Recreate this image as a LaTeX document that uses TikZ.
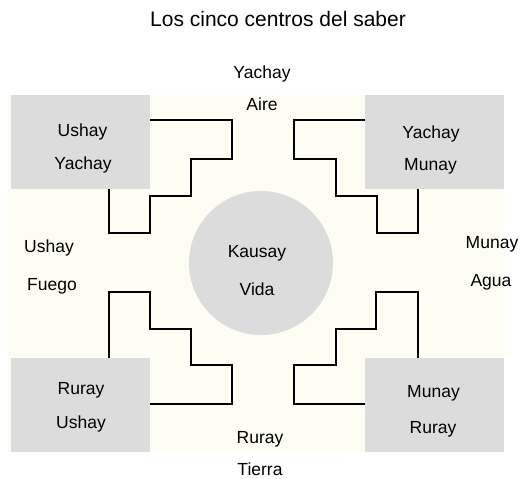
\documentclass[tikz,border=0pt]{standalone}
\usepackage{fontspec}
\setmainfont{Liberation Sans}
\definecolor{cream}{RGB}{253,253,243}
\definecolor{boxgray}{RGB}{220,220,220}
\begin{document}
\begin{tikzpicture}[x=1pt,y=-1pt,
  box/.style={fill=boxgray,draw=none,inner sep=0pt,minimum width=139pt,minimum height=94pt,anchor=north west},
  lbl/.style={font=\fontsize{17.5}{20}\selectfont,anchor=base,inner sep=0pt},
  ttl/.style={font=\fontsize{21}{24}\selectfont,anchor=base,inner sep=0pt},
  stair/.style={draw=black,line width=2.7pt,line cap=butt,line join=miter}]
\useasboundingbox (0,0) rectangle (522,479);
\fill[white] (0,0) rectangle (522,479);
\fill[cream] (8,95) rectangle (504,452);
\node[box] (tl) at (11,95) {};
\node[box] (tr) at (365,95) {};
\node[box] (bl) at (11,358) {};
\node[box] (br) at (365,358) {};
\node[circle,fill=boxgray,draw=none,minimum size=144pt,inner sep=0pt] (c) at (261,263) {};
% staircases
\draw[stair] (150,120) -- (232,120) -- (232,159) -- (191,159) -- (191,196) -- (150,196) -- (150,233) -- (109,233) -- (109,189);
\draw[stair] (365,120) -- (294,120) -- (294,159) -- (336,159) -- (336,196) -- (377,196) -- (377,233) -- (418,233) -- (418,189);
\draw[stair] (109,358) -- (109,292) -- (150,292) -- (150,329) -- (191,329) -- (191,365) -- (232,365) -- (232,404) -- (150,404);
\draw[stair] (418,358) -- (418,292) -- (376,292) -- (376,329) -- (336,329) -- (336,365) -- (294,365) -- (294,404) -- (365,404);
% texts
\node[ttl] (title) at (278,27) {Los cinco centros del saber};
\node[lbl] (n1) at (262,78) {Yachay};
\node[lbl] (n2) at (262,110) {Aire};
\node[lbl] (w1) at (49,252) {Ushay};
\node[lbl] (w2) at (52,290) {Fuego};
\node[lbl] (e1) at (492,248) {Munay};
\node[lbl] (e2) at (491,286) {Agua};
\node[lbl] (c1) at (257,257) {Kausay};
\node[lbl] (c2) at (257,295) {Vida};
\node[lbl] (s1) at (260,443) {Ruray};
\node[lbl] (s2) at (260,475) {Tierra};
\node[lbl] (tl1) at (82.5,136) {Ushay};
\node[lbl] (tl2) at (83,169) {Yachay};
\node[lbl] (tr1) at (431,138) {Yachay};
\node[lbl] (tr2) at (430.5,170) {Munay};
\node[lbl] (bl1) at (81,394) {Ruray};
\node[lbl] (bl2) at (81,428) {Ushay};
\node[lbl] (br1) at (433.5,397) {Munay};
\node[lbl] (br2) at (433,433) {Ruray};
\end{tikzpicture}
\end{document}
